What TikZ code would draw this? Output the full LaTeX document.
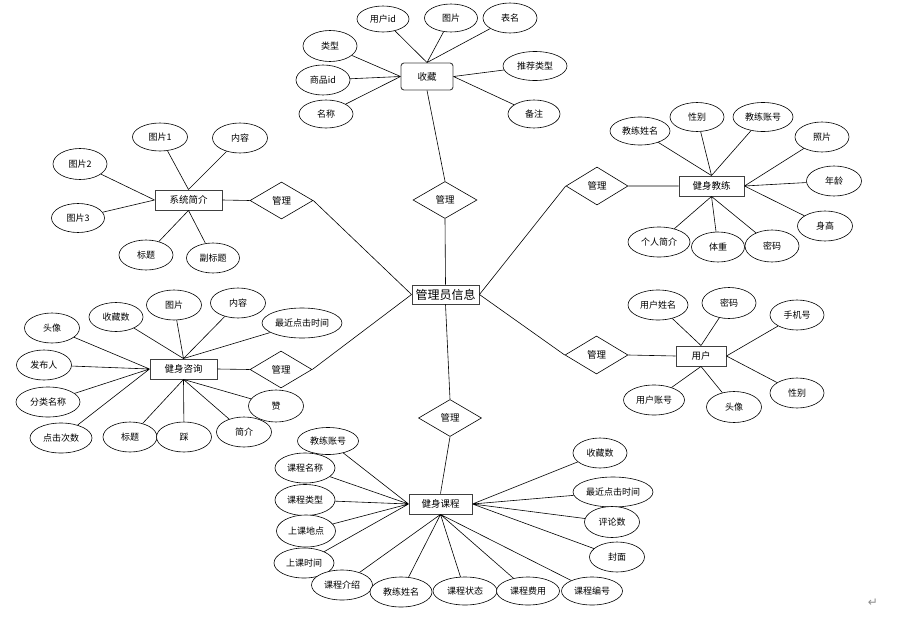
\documentclass[tikz,border=0pt]{standalone}
\usepackage{fontspec}
\setmainfont{Noto Sans CJK SC}
\newfontfamily\symfont{DejaVu Sans}
\usetikzlibrary{shapes.geometric}
\tikzset{
  attr/.style={ellipse, draw=black, line width=0.6pt, fill=white, inner sep=0pt,
    minimum width=55, minimum height=30, font=\fontsize{9}{10}\selectfont},
  ent/.style={rectangle, draw=black!75, line width=0.9pt, fill=white, inner sep=0pt,
    minimum width=66, minimum height=20, font=\fontsize{9.5}{10}\selectfont},
  rel/.style={diamond, draw=black, line width=0.6pt, fill=white, inner sep=0pt,
    minimum width=63, minimum height=37, font=\fontsize{9.5}{10}\selectfont},
  conn/.style={draw=black, line width=0.6pt}
}
\begin{document}
\begin{tikzpicture}[x=1pt,y=-1pt]
\useasboundingbox (0,0) rectangle (897,624);

% central
\node[ent, minimum width=67, minimum height=19, font=\fontsize{12}{13}\selectfont] (main) at (445.5,294.5) {管理员信息};

% relations
\node[rel, minimum width=64] (r_top) at (445,200) {管理};
\node[rel] (r_bot) at (450,418) {管理};
\node[rel] (r_sys) at (281.5,200.5) {管理};
\node[rel, minimum width=62] (r_zx) at (281,369.5) {管理};
\node[rel, minimum width=62, minimum height=38] (r_jl) at (597,186) {管理};
\node[rel, minimum height=38] (r_yh) at (596.5,355) {管理};

% entities
\node[ent, rounded corners=3pt, minimum width=52, minimum height=27] (sc) at (427,76.5) {收藏};
\node[ent, minimum width=67] (sys) at (188.5,200) {系统简介};
\node[ent, minimum width=67] (zx) at (183.5,369) {健身咨询};
\node[ent, minimum width=65] (jl) at (711.5,186) {健身教练};
\node[ent, minimum width=50] (yh) at (701,356) {用户};
\node[ent, minimum width=63] (kc) at (440.5,504) {健身课程};

% 收藏 attributes
\node[attr, minimum width=52, minimum height=26] (sc1) at (383,19) {用户id};
\node[attr, minimum width=53, minimum height=28] (sc2) at (451,18) {图片};
\node[attr, minimum width=54] (sc3) at (510,18) {表名};
\node[attr, minimum width=54, minimum height=31] (sc4) at (330,46) {类型};
\node[attr, minimum width=54] (sc5) at (323,80) {商品id};
\node[attr, minimum width=54, minimum height=28] (sc6) at (326,114) {名称};
\node[attr, minimum width=64, minimum height=29] (sc7) at (535,66) {推荐类型};
\node[attr, minimum width=52, minimum height=28] (sc8) at (534,114) {备注};

% 系统简介 attributes
\node[attr, minimum height=28] (sy1) at (160,137) {图片1};
\node[attr] (sy2) at (240,138) {内容};
\node[attr, minimum width=54, minimum height=31] (sy3) at (80,164) {图片2};
\node[attr, minimum width=53, minimum height=29] (sy4) at (78,218) {图片3};
\node[attr, minimum width=54] (sy5) at (146,255) {标题};
\node[attr, minimum width=53] (sy6) at (213,258) {副标题};

% 健身教练 attributes
\node[attr, minimum width=60, minimum height=28] (jl1) at (640,131) {教练姓名};
\node[attr, minimum width=54, minimum height=29] (jl2) at (697,117) {性别};
\node[attr, minimum width=60, minimum height=29] (jl3) at (763,117) {教练账号};
\node[attr, minimum width=54] (jl4) at (822,137) {照片};
\node[attr] (jl5) at (834,181) {年龄};
\node[attr] (jl6) at (825,226) {身高};
\node[attr, minimum width=62] (jl7) at (659,242) {个人简介};
\node[attr, minimum width=53] (jl8) at (718,247) {体重};
\node[attr, minimum width=54, minimum height=32] (jl9) at (772,246) {密码};

% 健身咨询 attributes
\node[attr] (zx1) at (52,328) {头像};
\node[attr, minimum width=54, minimum height=29] (zx2) at (116,317) {收藏数};
\node[attr] (zx3) at (174,305) {图片};
\node[attr] (zx4) at (238,303) {内容};
\node[attr, minimum width=80] (zx5) at (302,323) {最近点击时间};
\node[attr] (zx6) at (44,365) {发布人};
\node[attr, minimum width=64] (zx7) at (48,402) {分类名称};
\node[attr, minimum width=62] (zx8) at (61,438) {点击次数};
\node[attr, minimum width=54] (zx9) at (130,437) {标题};
\node[attr] (zx10) at (184,437) {踩};
\node[attr] (zx11) at (244,432) {简介};
\node[attr, minimum height=32] (zx12) at (276,406) {赞};

% 用户 attributes
\node[attr, minimum width=60] (yh1) at (658,305) {用户姓名};
\node[attr, minimum width=54, minimum height=31] (yh2) at (729,303) {密码};
\node[attr, minimum width=54] (yh3) at (797,315) {手机号};
\node[attr, minimum width=54] (yh4) at (797,393) {性别};
\node[attr, minimum height=31] (yh5) at (734,407) {头像};
\node[attr, minimum width=61] (yh6) at (654,400) {用户账号};

% 健身课程 attributes
\node[attr, minimum width=61, minimum height=27] (kc1) at (328,441) {教练账号};
\node[attr, minimum width=60] (kc2) at (305,468) {课程名称};
\node[attr, minimum width=60, minimum height=31] (kc3) at (305,500) {课程类型};
\node[attr, minimum width=59, minimum height=32] (kc4) at (306,531) {上课地点};
\node[attr, minimum width=60] (kc5) at (304,563) {上课时间};
\node[attr, minimum width=61] (kc6) at (342,585) {课程介绍};
\node[attr, minimum width=62] (kc7) at (401,592) {教练姓名};
\node[attr, minimum width=64, minimum height=28] (kc8) at (465,591) {课程状态};
\node[attr, minimum width=63, minimum height=28] (kc9) at (528,591) {课程费用};
\node[attr, minimum width=61, minimum height=28] (kc10) at (592,591) {课程编号};
\node[attr, minimum width=54] (kc11) at (600,453) {收藏数};
\node[attr, minimum width=80] (kc12) at (613,492) {最近点击时间};
\node[attr, minimum height=31] (kc13) at (612,522) {评论数};
\node[attr] (kc14) at (617,557) {封面};

\node[text=black!45, font=\symfont\fontsize{12}{12}\selectfont] (ret) at (873,603) {↵};

% ---------- connectors
\path[conn]
  (r_top.north) -- (sc.south)
  (r_top.south) -- (main.north)
  (main.south) -- (r_bot.north)
  (r_bot.south) -- (kc.north)
  (r_sys.east) -- (main.west)
  (r_zx.east) -- (main.west)
  (main.east) -- (r_jl.west)
  (main.east) -- (r_yh.west)
  (sys.east) -- (r_sys.west)
  (zx.east) -- (r_zx.west)
  (r_jl.east) -- (jl.west)
  (r_yh.east) -- (yh.west);

\path[conn]
  (sc1) -- (sc.north) (sc2) -- (sc.north) (sc3) -- (sc.north)
  (sc4) -- (sc.west) (sc5) -- (sc.west) (sc6) -- (sc.west)
  (sc7) -- (sc.east) (sc8) -- (sc.east);

\path[conn]
  (sy1) -- (sys.north) (sy2) -- (sys.north)
  (sy3) -- (sys.west) (sy4) -- (sys.west)
  (sy5) -- (sys.south) (sy6) -- (sys.south);

\path[conn]
  (jl1) -- (jl.north) (jl2) -- (jl.north) (jl3) -- (jl.north)
  (jl4) -- (jl.east) (jl5) -- (jl.east) (jl6) -- (jl.east)
  (jl7) -- (jl.south) (jl8) -- (jl.south) (jl9) -- (jl.south);

\path[conn]
  (zx2) -- (zx.north) (zx3) -- (zx.north) (zx4) -- (zx.north) (zx5) -- (zx.north)
  (zx1) -- (zx.west) (zx6) -- (zx.west) (zx7) -- (zx.west) (zx8) -- (zx.west)
  (zx9) -- (zx.south) (zx10) -- (zx.south) (zx11) -- (zx.south) (zx12) -- (zx.south);

\path[conn]
  (yh1) -- (yh.north) (yh2) -- (yh.north)
  (yh3) -- (yh.east) (yh4) -- (yh.east)
  (yh5) -- (yh.south) (yh6) -- (yh.south);

\path[conn]
  (kc1) -- (kc.west) (kc2) -- (kc.west) (kc3) -- (kc.west) (kc4) -- (kc.west) (kc5) -- (kc.west)
  (kc6) -- (kc.south) (kc7) -- (kc.south) (kc8) -- (kc.south) (kc9) -- (kc.south) (kc10) -- (kc.south)
  (kc11) -- (kc.east) (kc12) -- (kc.east) (kc13) -- (kc.east) (kc14) -- (kc.east);

\end{tikzpicture}
\end{document}
